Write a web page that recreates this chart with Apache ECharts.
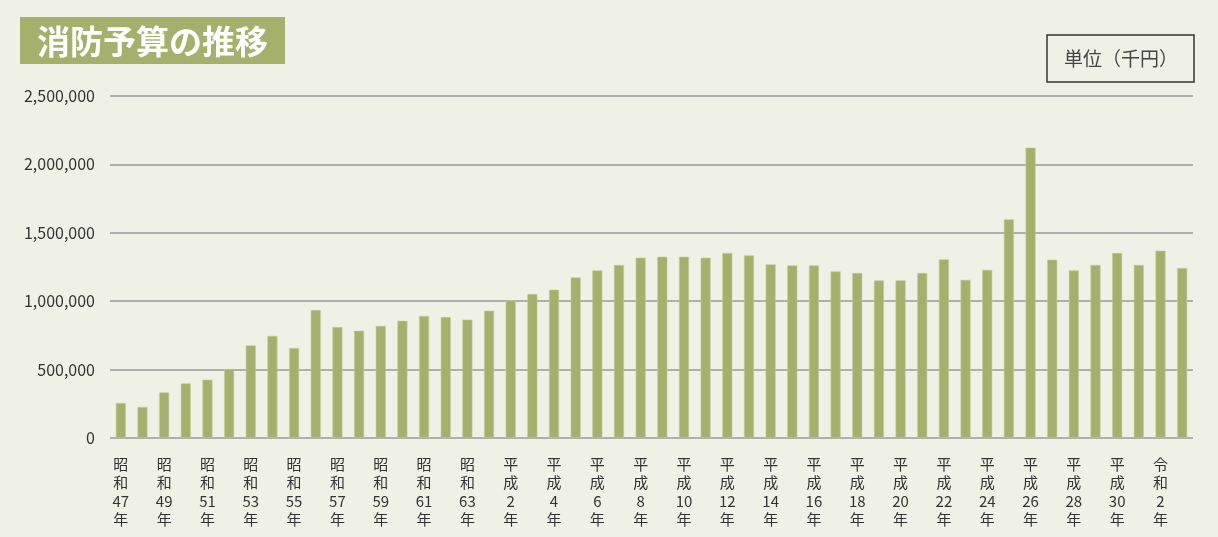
<!DOCTYPE html>
<html>
<head>
<meta charset="utf-8">
<script src="https://cdn.jsdelivr.net/npm/echarts@6/dist/echarts.min.js"></script>
<style>
  html, body { margin: 0; padding: 0; background: #f0f1e6; }
  #chart { width: 1218px; height: 537px; }
</style>
</head>
<body>
<div id="chart"></div>
<script>
// 年度（昭和47年〜令和3年）
const years = [
  '昭和47年','昭和48年','昭和49年','昭和50年','昭和51年','昭和52年','昭和53年','昭和54年','昭和55年','昭和56年',
  '昭和57年','昭和58年','昭和59年','昭和60年','昭和61年','昭和62年','昭和63年','平成元年','平成2年','平成3年',
  '平成4年','平成5年','平成6年','平成7年','平成8年','平成9年','平成10年','平成11年','平成12年','平成13年',
  '平成14年','平成15年','平成16年','平成17年','平成18年','平成19年','平成20年','平成21年','平成22年','平成23年',
  '平成24年','平成25年','平成26年','平成27年','平成28年','平成29年','平成30年','令和元年','令和2年','令和3年'
];
// 消防予算（千円）
const budget = [
  256000, 227000, 333000, 399000, 426000, 504000, 677000, 746000, 658000, 936000,
  811000, 784000, 819000, 857000, 892000, 884000, 865000, 931000, 1004000, 1053000,
  1084000, 1174000, 1225000, 1265000, 1318000, 1325000, 1325000, 1318000, 1352000, 1335000,
  1269000, 1262000, 1262000, 1218000, 1206000, 1152000, 1152000, 1206000, 1306000, 1156000,
  1229000, 1598000, 2122000, 1303000, 1225000, 1265000, 1352000, 1265000, 1369000, 1243000
];
const yTicks = { min: 0, max: 2500000, interval: 500000 };

const green = '#a5b06c';
const font = '"Noto Sans CJK JP", "Noto Sans", sans-serif';

function verticalLabel(name) {
  const m = name.match(/^(.)(.)(.+)年$/);
  if (!m) return name;
  return [m[1], m[2], m[3], '年'].join('\n');
}

const chart = echarts.init(document.getElementById('chart'));
const option = {
  backgroundColor: '#f0f1e6',
  animation: false,
  grid: { left: 110, right: 25, top: 96, bottom: 99, containLabel: false },
  xAxis: {
    type: 'category',
    data: years,
    axisLine: { show: false },
    axisTick: { show: false },
    axisLabel: {
      interval: 1,
      margin: 17,
      color: '#333',
      fontFamily: font,
      fontSize: 15,
      lineHeight: 18.5,
      align: 'center',
      formatter: verticalLabel
    }
  },
  yAxis: {
    type: 'value',
    min: yTicks.min,
    max: yTicks.max,
    interval: yTicks.interval,
    axisLine: { show: false },
    axisTick: { show: false },
    splitLine: { lineStyle: { color: '#9a9a9a', width: 1.5 } },
    axisLabel: {
      margin: 15,
      color: '#333',
      fontFamily: font,
      fontSize: 16,
      formatter: v => v.toLocaleString('en-US')
    }
  },
  series: [{
    type: 'bar',
    data: budget,
    barWidth: 10,
    itemStyle: { color: green, borderColor: '#c3cb99', borderWidth: 0.6 }
  }],
  graphic: [
    {
      type: 'rect',
      x: 20, y: 17,
      shape: { width: 265, height: 47 },
      style: { fill: green }
    },
    {
      type: 'text',
      x: 37, y: 41,
      style: {
        text: '消防予算の推移',
        fill: '#fff',
        font: 'bold 33px ' + font,
        align: 'left',
        verticalAlign: 'middle'
      }
    },
    {
      type: 'rect',
      x: 1047, y: 35,
      shape: { width: 147, height: 47 },
      style: { fill: 'none', stroke: '#333', lineWidth: 1.5 }
    },
    {
      type: 'text',
      x: 1121, y: 59,
      style: {
        text: '単位（千円）',
        fill: '#444',
        font: '19px ' + font,
        align: 'center',
        verticalAlign: 'middle'
      }
    }
  ]
};
chart.setOption(option);
</script>
</body>
</html>
